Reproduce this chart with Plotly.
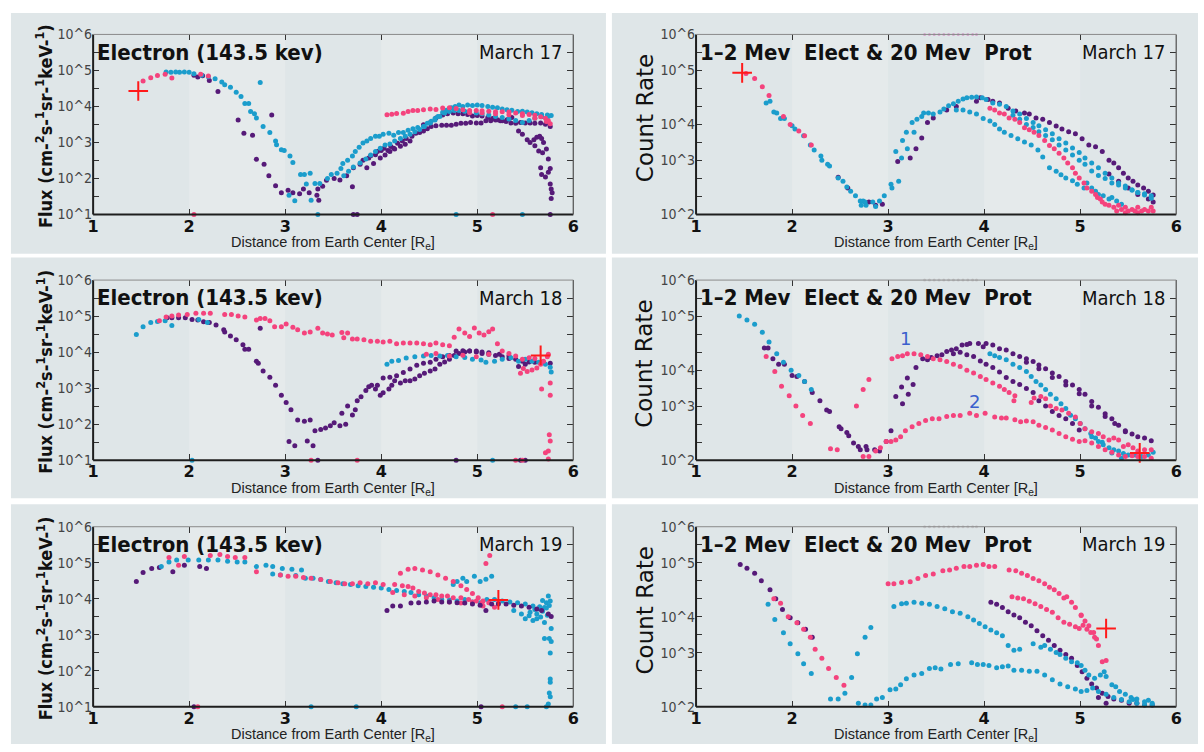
import math
import plotly.graph_objects as go

W, H = 1204, 752
OFF = 0

PINK = "#f4437d"
CYAN = "#1b9dcc"
PURPLE = "#561a78"
RED = "#ff1a1a"

# ---------------- axis ticks / labels ----------------
X_TICKS = [1, 2, 3, 4, 5, 6]
X_TICK_TEXT = ["1", "2", "3", "4", "5", "6"]
FLUX_TICK_EXP = [1, 1.5, 2, 2.5, 3, 3.5, 4, 4.5, 5, 5.5, 6]
FLUX_TICK_TEXT = ["10^1", "", "10^2", "", "10^3", "", "10^4", "", "10^5", "", "10^6"]
RATE_TICK_EXP = [2, 2.4, 2.8, 3.2, 3.6, 4.0, 4.4, 4.8, 5.2, 5.6, 6]
RATE_TICK_TEXT = ["10^2", "", "", "10^3", "", "10^4", "", "", "10^5", "", "10^6"]

TITLE_FLUX = "Electron (143.5 kev)"
TITLE_RATE = "1\u20132 Mev  Elect & 20 Mev  Prot"
DATES = ["March 17", "March 17", "March 18", "March 18", "March 19", "March 19"]
YTITLE_FLUX = "Flux (cm-<sup>2</sup>s-<sup>1</sup>sr-<sup>1</sup>keV-<sup>1</sup>)"
YTITLE_RATE = "Count Rate"
XTITLE = "Distance from Earth Center [R<sub>e</sub>]"

# faint saturated points along the top edge of the count-rate panels
TOP_DOTS_X = [3.38, 3.43, 3.48, 3.53, 3.58, 3.63, 3.68, 3.73, 3.78, 3.83, 3.88, 3.92]
TOP_DOTS_Y = [1e6, 1e6, 1e6, 1e6, 1e6, 1e6, 1e6, 1e6, 1e6, 1e6, 1e6, 1e6]

# ---------------- Panel A: March 17, electron flux ----------------
A_PINK1_X = [1.52, 1.60, 1.67, 1.75, 1.82, 2.12, 2.20, 2.05]
A_PINK1_Y = [5.1e4, 6.3e4, 7.2e4, 7.8e4, 6.2e4, 7.8e4, 7.0e4, 10]
A_PINK2_X = [4.06, 4.11, 4.16, 4.23, 4.28, 4.33, 4.38, 4.44, 4.51, 4.57, 4.64, 4.71, 4.78, 4.85, 4.92, 4.99, 5.05, 5.12, 5.19, 5.26,
             5.33, 5.40, 5.47, 5.54, 5.60, 5.66, 5.71, 5.74, 5.76, 4.92, 5.05, 5.19, 5.33, 5.47, 5.60, 5.72, 5.16]
A_PINK2_Y = [5.9e3, 6.1e3, 6.4e3, 6.5e3, 7.2e3, 7.7e3, 7.7e3, 8.1e3, 8.5e3, 8.3e3, 9.1e3, 9.2e3, 8.8e3, 8.1e3, 7.7e3, 7.7e3, 7.6e3, 7.4e3, 7.1e3, 7.1e3,
             7.0e3, 6.6e3, 6.3e3, 6.0e3, 5.7e3, 5.2e3, 4.7e3, 4.0e3, 3.3e3, 6.7e3, 6.6e3, 6.3e3, 5.9e3, 5.6e3, 4.7e3, 3.8e3, 10]
A_CYAN1_X = [1.76, 1.81, 1.86, 1.90, 1.95, 2.00, 2.05, 2.13, 2.20, 2.27, 2.34, 2.37, 2.43, 2.49, 2.54, 2.58, 2.62, 2.64, 2.68, 2.70,
             2.74, 2.77, 2.84, 2.90, 2.91, 2.96, 2.99, 3.05, 3.08, 3.16, 3.20, 3.26, 3.22, 3.04, 3.10, 3.27, 3.31, 3.36, 3.34, 4.78, 5.47]
A_CYAN1_Y = [9.1e4, 8.9e4, 9.1e4, 8.9e4, 9.1e4, 8.9e4, 8.1e4, 7.4e4, 6.7e4, 5.9e4, 4.8e4, 4.0e4, 3.4e4, 2.5e4, 1.9e4, 1.2e4, 1.2e4, 7.2e3, 6.3e3, 4.8e3,
             4.6e4, 2.8e3, 1.9e3, 1.1e3, 8.7e2, 6.3e2, 6.0e2, 4.2e2, 2.8e2, 1.3e2, 1.3e2, 1.4e2, 70, 34, 24, 25, 73, 73, 10, 10, 10]
A_CYAN2_X = [3.44, 3.48, 3.54, 3.58, 3.60, 3.65, 3.70, 3.73, 3.77, 3.81, 3.85, 3.89, 3.94, 3.98, 4.02, 4.08, 4.13, 4.18, 4.23, 4.28,
             4.33, 4.38, 4.44, 4.48, 4.52, 4.56, 4.59, 4.64, 4.68, 4.73, 4.77, 4.81, 4.85, 4.90, 4.95, 5.00, 5.05, 5.11, 5.16, 5.21,
             5.26, 5.31, 5.36, 5.42, 5.47, 5.52, 5.57, 5.62, 5.67, 5.73, 5.77]
A_CYAN2_Y = [1.0e2, 1.3e2, 1.4e2, 1.9e2, 2.6e2, 3.2e2, 4.2e2, 5.6e2, 7.4e2, 9.6e2, 1.1e3, 1.3e3, 1.5e3, 1.5e3, 1.7e3, 1.8e3, 1.6e3, 1.9e3, 1.9e3, 2.2e3,
             2.4e3, 2.6e3, 2.8e3, 3.4e3, 3.9e3, 4.6e3, 5.3e3, 6.9e3, 7.8e3, 9.2e3, 1.0e4, 1.1e4, 1.0e4, 1.1e4, 1.07e4, 1.1e4, 1.07e4, 1.0e4, 9.5e3, 9.2e3,
             8.5e3, 8.1e3, 7.8e3, 7.3e3, 7.4e3, 7.0e3, 6.7e3, 6.3e3, 6.0e3, 5.8e3, 5.6e3]
A_CYAN3_X = [3.61, 3.66, 3.71, 3.78, 3.84, 3.89, 3.94, 3.99, 4.04, 4.09, 4.14, 4.20, 4.25, 4.30, 4.35, 4.40, 4.45, 4.51, 4.56, 4.61,
             4.66, 4.71, 4.76, 4.81, 4.87, 4.92, 4.99, 5.05, 5.12, 5.19, 5.26, 5.33, 5.40, 5.47, 5.54, 5.60, 5.67, 5.74]
A_CYAN3_Y = [1.2e2, 1.6e2, 2.1e2, 2.7e2, 3.5e2, 4.5e2, 5.6e2, 6.9e2, 8.5e2, 9.1e2, 1.1e3, 1.3e3, 1.5e3, 1.7e3, 2.0e3, 2.3e3, 2.8e3, 3.5e3, 4.2e3, 5.3e3,
             6.6e3, 7.2e3, 7.7e3, 7.7e3, 7.4e3, 7.1e3, 6.6e3, 6.3e3, 5.8e3, 5.3e3, 4.9e3, 4.5e3, 4.1e3, 3.6e3, 4.1e3, 4.7e3, 5.2e3, 5.3e3]
A_PURPLE1_X = [2.05, 2.09, 2.14, 2.21, 2.30, 2.51, 2.57, 2.66, 2.86, 2.70, 2.78, 2.83, 2.90, 2.96, 3.03, 3.08, 3.15, 3.19, 3.25, 3.33,
               3.35, 3.34, 3.71, 3.75, 5.76]
A_PURPLE1_Y = [7.4e4, 6.6e4, 7.1e4, 5.3e4, 2.6e4, 4.2e3, 1.8e3, 1.6e3, 5.8e3, 3.4e2, 2.5e2, 1.2e2, 63, 40, 47, 40, 38, 51, 40, 34,
               25, 51, 10, 10, 10]
A_PURPLE2_X = [3.39, 3.43, 3.51, 3.57, 3.64, 3.70, 3.71, 3.78, 3.81, 3.87, 3.89, 3.94, 3.96, 4.00, 4.03, 4.07, 4.10, 4.13, 4.17, 4.22,
               4.26, 4.32, 4.36, 4.40, 4.44, 4.48, 4.52, 4.57, 4.63, 4.68, 4.73, 4.78, 4.83, 4.88, 4.93, 4.99, 5.04, 5.09, 5.14, 5.19,
               5.24, 5.30, 5.35, 5.40, 5.45, 5.50, 5.55, 5.60, 5.66, 5.71, 5.76]
A_PURPLE2_Y = [61, 89, 100, 91, 120, 59, 200, 250, 320, 370, 430, 460, 560, 600, 690, 600, 770, 690, 950, 1.1e3,
               1.3e3, 1.5e3, 1.8e3, 1.9e3, 2.1e3, 2.4e3, 2.8e3, 2.9e3, 3.0e3, 3.0e3, 3.0e3, 3.2e3, 3.4e3, 3.4e3, 3.6e3, 3.5e3, 3.5e3, 4.0e3, 4.0e3, 4.2e3,
               4.0e3, 3.8e3, 3.5e3, 3.4e3, 3.6e3, 3.5e3, 3.5e3, 3.4e3, 3.5e3, 3.2e3, 2.8e3]
A_PURPLE3_X = [4.44, 4.51, 4.57, 4.64, 4.69, 4.75, 4.80, 4.85, 4.90, 4.95, 5.00, 5.05, 5.11, 5.16, 5.21, 5.26, 5.31, 5.36,
               3.85, 3.92, 3.99, 4.04, 4.09, 4.14, 4.20, 4.25, 4.30]
A_PURPLE3_Y = [3.1e3, 3.6e3, 4.8e3, 5.8e3, 6.3e3, 6.6e3, 6.3e3, 6.3e3, 6.0e3, 5.4e3, 5.6e3, 5.4e3, 4.9e3, 4.6e3, 4.3e3, 4.0e3, 4.3e3, 4.9e3,
               200, 260, 370, 450, 560, 660, 780, 900, 1.1e3]
A_PURPLE4_X = [5.43, 5.47, 5.52, 5.55, 5.59, 5.62, 5.65, 5.67, 5.69, 5.60, 5.64, 5.68, 5.72, 5.74, 5.76, 5.66, 5.67, 5.71, 5.74, 5.76,
               5.77, 5.78, 5.77]
A_PURPLE4_Y = [2.1e3, 1.7e3, 1.2e3, 1.0e3, 1.2e3, 1.4e3, 1.5e3, 1.3e3, 1.0e3, 810, 580, 520, 660, 350, 190, 200, 130, 110, 150, 70,
               51, 40, 28]
A_PLUS_X = [1.47]
A_PLUS_Y = [2.7e4]

# ---------------- Panel B: March 17, count rate ----------------
B_PINK1_X = [1.52, 1.61, 1.69, 1.76, 1.91, 1.98, 2.07, 2.13, 2.20]
B_PINK1_Y = [1.35e5, 1.05e5, 6.9e4, 4.4e4, 1.5e4, 1.0e4, 7.2e3, 5.6e3, 3.5e3]
B_PINK2_X = [4.06, 4.11, 4.16, 4.21, 4.26, 4.32, 4.37, 4.42, 4.47, 4.52, 4.57, 4.63, 4.68, 4.73, 4.78, 4.83, 4.87, 4.92, 4.95, 4.99,
             5.04, 5.07, 5.12, 5.16, 5.18, 5.21, 5.23, 5.26, 5.30, 5.35, 5.40, 5.43, 5.47, 5.50, 5.54, 5.57, 5.60, 5.64, 5.67, 5.71,
             5.74, 5.76, 5.47, 5.60, 5.38]
B_PINK2_Y = [2.3e4, 2.1e4, 1.8e4, 1.7e4, 1.4e4, 1.3e4, 1.1e4, 8.5e3, 7.6e3, 6.7e3, 5.7e3, 4.4e3, 3.4e3, 2.9e3, 2.3e3, 1.8e3, 1.4e3, 1.1e3, 830, 650,
             500, 390, 330, 280, 240, 220, 190, 170, 160, 145, 160, 130, 145, 120, 130, 120, 145, 120, 130, 120,
             145, 120, 110, 110, 120]
B_CYAN1_X = [1.73, 1.77, 1.81, 1.84, 1.88, 1.92, 2.00, 2.03, 2.12, 2.19, 2.23, 2.30, 2.31, 2.37, 2.39, 2.48, 2.53, 2.57, 2.61, 2.66,
             2.71, 2.74, 2.76, 2.72, 2.77, 2.84, 2.87, 2.91, 2.96, 3.03, 3.04, 3.08, 3.11, 3.14, 3.15, 3.19, 3.20, 3.25, 3.27, 3.30,
             3.35, 3.37, 3.42, 3.47, 3.54, 3.58, 3.63, 3.68, 3.73, 3.78, 3.82, 3.87, 3.92, 3.98, 4.02]
B_CYAN1_Y = [3.0e4, 3.3e4, 1.9e4, 1.8e4, 1.35e4, 1.35e4, 9.4e3, 7.9e3, 5.6e3, 3.5e3, 2.7e3, 2.0e3, 1.6e3, 1.3e3, 1.2e3, 650, 550, 410, 330, 260,
             200, 200, 190, 160, 160, 190, 150, 200, 260, 470, 390, 2.5e3, 550, 1.8e3, 4.4e3, 6.7e3, 2.9e3, 1.1e4, 6.7e3, 1.3e4,
             1.5e4, 1.8e4, 1.8e4, 1.7e4, 1.9e4, 2.2e4, 2.6e4, 2.9e4, 3.3e4, 3.7e4, 3.9e4, 4.0e4, 4.1e4, 3.9e4, 3.6e4]
B_CYAN2_X = [3.71, 3.78, 3.85, 3.92, 3.99, 4.06, 4.11, 4.16, 4.21, 4.28, 4.35, 4.42, 4.49, 4.56, 4.61, 4.68, 4.75, 4.80, 4.85, 4.92,
             4.97, 5.04, 5.07, 5.12, 5.16, 5.19, 5.24, 5.30, 5.33, 5.38, 5.43]
B_CYAN2_Y = [2.1e4, 2.1e4, 1.9e4, 1.7e4, 1.35e4, 1.2e4, 1.0e4, 7.9e3, 6.7e3, 5.7e3, 4.8e3, 4.1e3, 3.5e3, 2.7e3, 1.9e3, 1.1e3, 910, 760, 650, 560,
             470, 390, 500, 390, 330, 280, 260, 220, 240, 200, 170]
B_CYAN3_X = [4.09, 4.16, 4.23, 4.30, 4.37, 4.44, 4.51, 4.57, 4.64, 4.71, 4.78, 4.85, 4.92, 4.99, 5.05, 5.12, 5.19, 5.26, 5.33, 5.40,
             5.47, 5.54, 5.60, 5.67, 5.74]
B_CYAN3_Y = [3.0e4, 2.8e4, 2.5e4, 2.0e4, 1.7e4, 1.35e4, 1.1e4, 9.4e3, 7.6e3, 6.2e3, 4.8e3, 3.9e3, 3.0e3, 2.4e3, 1.8e3, 1.4e3, 1.1e3, 830, 650, 500,
             430, 350, 310, 270, 260]
B_CYAN4_X = [4.30, 4.37, 4.44, 4.51, 4.57, 4.64, 4.71, 4.78, 4.85, 4.92, 4.99, 5.05, 5.12, 5.19, 5.26, 5.33, 5.40, 5.47, 5.54, 5.60,
             5.67, 5.74]
B_CYAN4_Y = [1.6e4, 1.3e4, 1.0e4, 8.6e3, 6.9e3, 5.7e3, 4.6e3, 3.5e3, 2.7e3, 2.1e3, 1.6e3, 1.3e3, 930, 740, 630, 500, 450, 390, 350, 310,
             290, 230]
B_PURPLE1_X = [2.48, 2.58, 2.80, 2.87, 2.94, 3.10, 3.23, 3.29, 3.35, 3.41, 3.47, 3.61, 3.71, 3.92, 3.96, 4.04]
B_PURPLE1_Y = [670, 390, 190, 160, 170, 1.5e3, 1.8e3, 2.9e3, 5.0e3, 1.1e4, 1.4e4, 2.1e4, 2.5e4, 3.3e4, 3.9e4, 3.6e4]
B_PURPLE2_X = [4.09, 4.16, 4.25, 4.33, 4.42, 4.47, 4.54, 4.61, 4.68, 4.75, 4.81, 4.88, 4.95, 5.02, 5.09, 5.16, 5.23, 5.30, 5.35, 5.40,
               5.45, 5.50, 5.55, 5.60, 5.66, 5.71, 5.76, 5.30, 5.40, 5.50, 5.60, 5.71, 5.76]
B_PURPLE2_Y = [3.3e4, 3.0e4, 2.3e4, 2.0e4, 1.8e4, 1.7e4, 1.4e4, 1.3e4, 1.1e4, 9.3e3, 7.9e3, 6.9e3, 6.2e3, 4.8e3, 3.5e3, 3.2e3, 2.5e3, 1.6e3, 1.4e3, 1.1e3,
               830, 650, 550, 450, 390, 330, 270, 790, 550, 390, 280, 220, 190]
B_PLUS_X = [1.48]
B_PLUS_Y = [1.4e5]

# ---------------- Panel C: March 18, electron flux ----------------
C_PINK1_X = [1.69, 1.76, 1.82, 1.89, 1.98, 2.07, 2.15, 2.22, 2.37, 2.44, 2.51, 2.58, 2.70, 2.74, 2.79, 2.84, 2.89, 2.96, 3.01, 3.08,
             3.13, 3.20, 3.26, 3.34, 3.39, 3.44, 3.49, 3.59, 3.65, 3.61, 3.70, 3.75, 3.82, 3.89, 3.96, 4.02, 4.09, 4.16, 4.23, 4.30,
             4.37, 4.44, 4.51, 4.57, 4.64, 4.71, 4.76, 4.81, 4.87, 4.92, 4.97, 5.02, 5.07, 5.12, 5.16]
C_PINK1_Y = [7.4e4, 9.5e4, 1.0e5, 1.07e5, 1.1e5, 1.2e5, 1.2e5, 1.2e5, 1.1e5, 1.1e5, 1.0e5, 9.5e4, 7.8e4, 8.6e4, 8.6e4, 7.4e4, 5.1e4, 5.1e4, 6.0e4, 4.9e4,
             4.2e4, 3.4e4, 3.6e4, 4.6e4, 3.4e4, 3.2e4, 3.0e4, 3.5e4, 3.4e4, 2.5e4, 2.3e4, 2.3e4, 2.2e4, 2.0e4, 2.0e4, 1.9e4, 2.0e4, 1.7e4, 1.8e4, 1.8e4,
             1.8e4, 1.7e4, 1.6e4, 1.8e4, 1.6e4, 1.5e4, 2.6e4, 4.4e4, 3.4e4, 2.7e4, 4.7e4, 3.4e4, 3.0e4, 3.7e4, 4.4e4]
C_PINK2_X = [4.47, 4.57, 4.71, 4.85, 4.99, 5.12, 5.21, 5.26, 5.33, 5.40, 5.45, 5.48, 5.52, 5.57, 5.62, 5.66, 5.69, 5.73, 5.74, 5.47,
             5.54, 5.60, 5.67, 5.76, 5.76, 5.75, 5.76, 5.74, 5.71, 5.74, 3.27, 3.75, 5.40, 5.47]
C_PINK2_Y = [8.7e3, 9.2e3, 7.8e3, 8.2e3, 7.4e3, 8.7e3, 1.7e4, 1.07e4, 9.2e3, 7.8e3, 2.6e3, 3.5e3, 2.9e3, 3.2e3, 3.6e3, 4.6e3, 5.6e3, 7.4e3, 8.7e3, 6.3e3,
             7.0e3, 6.6e3, 950, 1.4e3, 630, 51, 34, 18, 16, 10.7, 10, 10, 10, 10]
C_CYAN1_X = [1.45, 1.52, 1.60, 1.67, 1.75, 1.82, 2.10, 2.19, 2.03, 5.16]
C_CYAN1_Y = [3.1e4, 5.1e4, 6.6e4, 7.1e4, 7.4e4, 5.5e4, 8.1e4, 6.6e4, 10, 10]
C_CYAN2_X = [4.06, 4.11, 4.18, 4.26, 4.35, 4.44, 4.52, 4.61, 4.69, 4.78, 4.87, 4.95, 5.04, 5.09, 5.18, 5.26, 5.35, 5.43, 5.50, 5.57,
             5.64, 5.71, 5.76, 5.77]
C_CYAN2_Y = [4.6e3, 5.6e3, 5.9e3, 6.9e3, 7.4e3, 7.8e3, 8.1e3, 7.8e3, 8.1e3, 7.4e3, 7.1e3, 6.3e3, 6.0e3, 5.2e3, 5.6e3, 6.3e3, 7.0e3, 5.6e3, 6.3e3, 5.6e3,
             5.2e3, 4.6e3, 3.8e3, 2.8e3]
C_PURPLE1_X = [1.77, 1.82, 1.89, 1.96, 2.03, 2.09, 2.15, 2.21, 2.28, 2.36, 2.37, 2.43, 2.49, 2.56, 2.58, 2.62, 2.70, 2.72, 2.74, 2.77,
               2.84, 2.90, 2.96, 3.01, 3.06, 3.13, 3.20, 3.26, 3.31, 3.37, 3.42, 3.04, 3.10, 3.23, 3.29, 3.34, 4.78, 5.45, 5.50]
C_PURPLE1_Y = [9.0e4, 9.0e4, 9.0e4, 9.0e4, 8.1e4, 7.8e4, 7.0e4, 6.6e4, 5.7e4, 4.2e4, 3.6e4, 2.8e4, 2.2e4, 1.6e4, 1.2e4, 1.2e4, 5.6e3, 4.9e3, 4.6e4, 3.0e3,
               2.0e3, 1.2e3, 630, 400, 250, 130, 120, 130, 66, 71, 78, 33, 25, 34, 25, 10, 10, 10, 10]
C_PURPLE2_X = [3.47, 3.51, 3.57, 3.63, 3.59, 3.65, 3.70, 3.73, 3.75, 3.79, 3.84, 3.87, 3.90, 3.94, 3.96, 3.99, 4.02, 4.08, 4.11, 4.14,
               4.20, 4.25, 4.30, 4.35, 4.40, 4.45, 4.51, 4.56, 4.61, 4.66, 4.71, 4.76, 4.81, 4.87, 4.92, 4.99, 5.05, 5.12, 5.19, 5.26,
               5.33, 5.40, 5.47, 5.54, 5.60, 5.67, 5.76]
C_PURPLE2_Y = [91, 110, 91, 100, 200, 320, 180, 250, 450, 580, 860, 1.1e3, 1.2e3, 950, 1.2e3, 630, 740, 950, 1.2e3, 1.6e3,
               1.4e3, 1.6e3, 1.6e3, 1.8e3, 2.2e3, 2.6e3, 3.0e3, 3.4e3, 4.6e3, 5.3e3, 6.3e3, 8.1e3, 9.2e3, 1.0e4, 1.07e4, 1.0e4, 9.2e3, 8.7e3, 8.1e3, 7.4e3,
               6.6e3, 6.3e3, 5.6e3, 5.3e3, 5.2e3, 5.2e3, 4.9e3]
C_PURPLE3_X = [4.02, 4.09, 4.16, 4.23, 4.30, 4.37, 4.44, 4.51, 4.57, 4.64, 4.71, 4.78, 4.85, 4.92, 4.99, 5.05, 5.12, 5.23, 5.33, 5.43, 5.50]
C_PURPLE3_Y = [1.9e3, 2.0e3, 2.2e3, 2.7e3, 3.4e3, 4.3e3, 4.9e3, 5.2e3, 6.3e3, 7.4e3, 8.1e3, 1.07e4, 1.1e4, 1.07e4, 1.07e4, 1.0e4, 9.6e3, 8.7e3, 7.8e3, 4.0e3, 4.6e3]
C_PLUS_X = [5.66]
C_PLUS_Y = [8.1e3]

# ---------------- Panel D: March 18, count rate ----------------
D_CYAN1_X = [1.45, 1.53, 1.61, 1.69, 1.76, 1.84, 1.91, 1.99, 2.07, 2.13, 2.20]
D_CYAN1_Y = [1.6e5, 1.3e5, 1.05e5, 6.9e4, 4.2e4, 2.3e4, 1.5e4, 1.0e4, 7.6e3, 5.6e3, 3.7e3]
D_CYAN2_X = [4.06, 4.11, 4.16, 4.23, 4.30, 4.37, 4.44, 4.49, 4.54, 4.59, 4.64, 4.69, 4.75, 4.80, 4.85, 4.90, 4.95, 5.00, 5.05, 5.11,
             5.16, 5.19, 5.24, 5.30, 5.35, 5.40, 5.45, 5.50, 5.57, 5.64, 5.71, 5.76, 5.12, 5.23, 5.33, 5.43]
D_CYAN2_Y = [2.3e4, 2.1e4, 1.9e4, 1.7e4, 1.35e4, 1.15e4, 9.3e3, 7.2e3, 5.6e3, 4.7e3, 3.7e3, 2.9e3, 2.3e3, 1.8e3, 1.4e3, 1.0e3, 830, 650, 500, 390,
             310, 260, 220, 190, 170, 160, 140, 130, 130, 120, 130, 150, 330, 250, 145, 110]
D_PINK1_X = [1.73, 1.82, 1.89, 1.97, 2.04, 2.11, 2.19, 2.40, 2.47, 2.67, 2.74, 2.80, 2.74, 2.80, 2.87, 2.92, 2.98]
D_PINK1_Y = [2.0e4, 9.3e3, 4.4e3, 2.7e3, 1.6e3, 980, 650, 180, 170, 1.6e3, 3.7e3, 6.2e3, 120, 120, 160, 190, 260]
D_PINK2_X = [3.04, 3.10, 3.15, 3.20, 3.27, 3.34, 3.41, 3.47, 3.54, 3.61, 3.68, 3.75, 3.82, 3.89, 3.96, 4.02, 4.09, 4.16, 4.21, 4.26,
             4.31, 4.32, 4.49, 4.52, 4.59, 4.64, 4.69, 4.75, 4.81, 4.88, 4.95, 5.00, 5.05, 5.12, 5.19, 5.24, 5.30, 5.35, 5.40, 5.45,
             5.50, 5.55, 5.60, 5.67, 5.74]
D_PINK2_Y = [1.8e4, 2.0e4, 2.1e4, 2.3e4, 2.3e4, 2.2e4, 2.0e4, 1.8e4, 1.7e4, 1.55e4, 1.35e4, 1.2e4, 1.0e4, 8.6e3, 7.2e3, 6.2e3, 5.2e3, 4.4e3, 3.7e3, 3.2e3,
             2.1e3, 2.7e3, 1.9e3, 2.4e3, 2.6e3, 2.3e3, 1.6e3, 1.4e3, 1.3e3, 1.1e3, 910, 650, 500, 430, 390, 330, 280, 310, 280, 200,
             220, 190, 160, 170, 170]
D_PINK3_X = [3.03, 3.08, 3.13, 3.18, 3.25, 3.32, 3.39, 3.46, 3.53, 3.61, 3.68, 3.75, 3.85, 3.92, 4.01, 4.11, 4.18, 4.23, 4.32, 4.38,
             4.44, 4.51, 4.57, 4.64, 4.71, 4.78, 4.85, 4.92, 4.99, 5.05, 5.12, 5.19, 5.26, 5.33, 5.40, 5.47, 5.54, 5.60, 5.67, 5.74]
D_PINK3_Y = [260, 280, 330, 450, 550, 650, 760, 830, 830, 930, 980, 980, 1.1e3, 980, 1.1e3, 910, 870, 870, 790, 710,
             740, 710, 600, 530, 470, 390, 330, 290, 260, 270, 240, 200, 170, 150, 130, 120, 126, 120, 120, 110]
D_PURPLE1_X = [1.71, 1.75, 1.80, 1.86, 1.92, 2.00, 2.05, 2.13, 2.21, 2.29, 2.36, 2.39, 2.49, 2.51, 2.57, 2.59, 2.64, 2.69, 2.71, 2.77,
               2.78, 2.86, 2.91, 2.98, 3.03, 3.08, 3.14, 3.15, 3.20, 3.21, 3.26, 3.29, 3.36, 3.41, 3.45, 3.51, 3.56, 3.61, 3.66, 3.71,
               3.77, 3.82, 3.85, 3.94, 3.99]
D_PURPLE1_Y = [3.1e4, 3.1e4, 1.8e4, 1.35e4, 1.35e4, 7.6e3, 7.2e3, 5.6e3, 3.2e3, 2.1e3, 1.3e3, 1.2e3, 550, 500, 410, 350, 240, 200, 170, 200,
               170, 170, 160, 260, 450, 2.6e3, 4.2e3, 1.8e3, 6.7e3, 2.9e3, 4.8e3, 1.15e4, 1.8e4, 1.7e4, 1.9e4, 2.1e4, 2.2e4, 2.6e4, 2.8e4, 3.0e4,
               3.6e4, 3.7e4, 3.9e4, 3.9e4, 3.3e4]
D_PURPLE2_X = [3.68, 3.75, 3.82, 3.89, 3.96, 4.02, 4.09, 4.16, 4.23, 4.30, 4.37, 4.44, 4.51, 4.57, 4.64, 4.71, 4.78, 4.85, 4.92, 4.99]
D_PURPLE2_Y = [2.3e4, 2.5e4, 2.2e4, 2.0e4, 1.6e4, 1.35e4, 1.15e4, 9.1e3, 6.9e3, 5.6e3, 4.8e3, 3.9e3, 3.2e3, 2.1e3, 1.6e3, 1.2e3, 980, 830, 650, 470]
D_PURPLE3_X = [4.02, 4.09, 4.16, 4.23, 4.30, 4.37, 4.44, 4.51, 4.57, 4.64, 4.71, 4.78, 4.85, 4.92, 4.99, 5.05, 5.12, 5.19, 5.26, 5.33,
               5.40, 5.47, 5.54, 5.60, 5.67, 5.74, 4.44, 4.57, 4.71, 4.85, 4.99, 5.12, 5.26, 5.36, 5.47]
D_PURPLE3_Y = [3.9e4, 3.6e4, 3.0e4, 2.8e4, 2.3e4, 2.0e4, 1.8e4, 1.55e4, 1.3e4, 1.07e4, 8.6e3, 7.2e3, 5.6e3, 4.7e3, 3.7e3, 2.9e3, 2.0e3, 1.5e3, 1.07e3, 830,
               600, 450, 380, 330, 310, 270, 1.5e4, 1.07e4, 6.9e3, 4.7e3, 3.0e3, 1.6e3, 930, 650, 430]
D_PLUS_X = [5.62]
D_PLUS_Y = [145]
D_NOTE_TEXT = ["1", "2"]
D_NOTE_X = [3.18, 3.90]
D_NOTE_Y = [5.0e4, 2.0e3]

# ---------------- Panel E: March 19, electron flux ----------------
E_PINK1_X = [1.79, 1.89, 1.95, 2.22, 2.32, 2.40, 2.48, 2.58, 2.70, 2.95, 3.03, 3.11, 3.19, 3.27, 3.37, 3.47, 3.55, 3.62, 3.70, 3.78,
             3.86, 3.94, 4.02, 4.14, 4.22, 4.28, 4.33, 4.39, 4.45, 4.51, 4.57, 4.63, 4.69, 4.75, 4.83, 4.91, 4.99, 5.06, 5.12]
E_PINK1_Y = [1.4e5, 8.5e4, 1.5e5, 1.6e5, 1.7e5, 1.5e5, 1.4e5, 1.4e5, 5.6e4, 4.6e4, 4.2e4, 4.2e4, 3.9e4, 3.7e4, 3.4e4, 3.0e4, 2.8e4, 2.6e4, 2.6e4, 2.8e4,
             2.6e4, 2.8e4, 2.5e4, 2.5e4, 2.3e4, 2.2e4, 2.0e4, 1.6e4, 1.45e4, 1.3e4, 1.3e4, 1.2e4, 1.2e4, 1.07e4, 1.07e4, 9.6e3, 8.7e3, 8.7e3, 7.8e3]
E_PINK2_X = [4.20, 4.28, 4.35, 4.43, 4.51, 4.59, 4.67, 4.75, 4.83, 4.89, 4.95, 5.01, 5.09, 5.13, 5.05,
             4.12, 4.24, 4.35, 4.47, 4.59, 4.71, 4.83, 4.95, 5.06, 5.18, 5.22, 2.09, 5.26]
E_PINK2_Y = [5.1e4, 6.6e4, 6.9e4, 6.3e4, 5.6e4, 4.6e4, 3.7e4, 3.0e4, 2.3e4, 1.8e4, 1.4e4, 1.07e4, 9.5e4, 1.6e5, 7.8e3,
             1.5e4, 1.3e4, 1.2e4, 1.07e4, 9.6e3, 8.1e3, 7.6e3, 8.1e3, 6.3e3, 5.8e3, 7.8e3, 10, 10]
E_CYAN1_X = [1.71, 1.79, 1.87, 1.99, 2.10, 2.20, 2.30, 2.40, 2.50, 2.58, 2.70, 2.80, 2.87, 2.97, 3.07, 3.17, 2.87, 2.95, 3.11, 3.21,
             3.29, 3.37, 3.45, 3.53, 3.60, 3.68, 3.76, 3.84, 3.92, 4.00, 4.08, 4.16, 4.24, 4.31, 4.39, 4.47, 4.55, 4.63, 4.71, 4.79,
             4.87, 4.95, 5.03, 5.10, 5.18, 5.26, 5.34, 5.42, 5.50, 5.58, 5.64, 5.70]
E_CYAN1_Y = [7.8e4, 1.05e5, 1.2e5, 1.2e5, 1.2e5, 1.2e5, 1.2e5, 1.1e5, 1.05e5, 1.05e5, 7.8e4, 8.5e4, 7.8e4, 6.9e4, 6.6e4, 6.3e4, 4.9e4, 4.6e4, 4.4e4, 3.7e4,
             3.7e4, 3.4e4, 3.0e4, 2.8e4, 2.6e4, 2.5e4, 2.3e4, 2.2e4, 2.1e4, 2.0e4, 1.8e4, 1.7e4, 1.6e4, 1.5e4, 1.3e4, 1.2e4, 1.07e4, 9.6e3, 9.3e3, 8.7e3,
             9.6e3, 8.1e3, 7.8e3, 9.6e3, 9.6e3, 8.7e3, 8.1e3, 7.8e3, 7.1e3, 6.3e3, 5.2e3, 5.7e3]
E_CYAN2_X = [4.75, 4.79, 4.85, 4.89, 4.97, 5.03, 5.09, 5.15,
             5.38, 5.46, 5.50, 5.54, 5.58, 5.62, 5.66, 5.70, 5.72, 5.74, 5.76, 5.77, 5.75, 5.70, 5.77, 5.76, 5.76, 5.76, 5.75, 5.76, 5.74,
             5.60, 5.65, 5.68, 5.72, 5.55, 5.62, 5.73, 5.68, 5.75, 3.27, 3.74, 5.40, 5.52, 5.72]
E_CYAN2_Y = [2.5e4, 3.0e4, 3.7e4, 3.0e4, 4.2e4, 3.0e4, 3.5e4, 4.2e4,
             4.7e3, 3.8e3, 2.8e3, 3.4e3, 2.5e3, 3.8e3, 3.1e3, 2.2e3, 7.8e3, 1.2e4, 8.7e3, 1.5e3, 790, 790, 650, 310, 59, 48, 24, 19, 12,
             5.0e3, 6.0e3, 4.5e3, 5.5e3, 4.2e3, 2.8e3, 3.5e3, 9.0e3, 6.5e3, 10, 10, 10, 10, 10]
E_PURPLE1_X = [1.45, 1.52, 1.61, 1.69, 1.83, 1.95, 2.11, 2.18, 2.05, 5.04]
E_PURPLE1_Y = [3.0e4, 5.4e4, 6.9e4, 7.4e4, 5.6e4, 8.5e4, 7.8e4, 6.9e4, 10, 10]
E_PURPLE2_X = [4.06, 4.12, 4.20, 4.31, 4.39, 4.47, 4.55, 4.63, 4.71, 4.79, 4.87, 4.95, 5.03, 5.09, 5.15, 5.22, 5.30, 5.38, 5.46, 5.54,
               5.62, 5.67, 5.74, 5.77]
E_PURPLE2_Y = [4.7e3, 6.3e3, 6.3e3, 7.6e3, 7.8e3, 8.1e3, 8.7e3, 8.1e3, 8.1e3, 7.8e3, 7.6e3, 7.1e3, 6.6e3, 4.7e3, 7.1e3, 7.1e3, 7.1e3, 6.6e3, 6.3e3, 5.8e3,
               5.2e3, 4.7e3, 3.8e3, 3.2e3]
E_PLUS_X = [5.22]
E_PLUS_Y = [9.3e3]

# ---------------- Panel F: March 19, count rate ----------------
F_PURPLE1_X = [1.46, 1.53, 1.61, 1.68, 1.77, 1.83, 1.90, 1.98, 2.06, 2.14, 2.21]
F_PURPLE1_Y = [1.45e5, 1.2e5, 9.3e4, 6.3e4, 4.0e4, 2.5e4, 1.45e4, 9.5e3, 7.4e3, 5.3e3, 3.5e3]
F_PURPLE2_X = [4.07, 4.13, 4.19, 4.25, 4.31, 4.37, 4.43, 4.49, 4.55, 4.61, 4.67, 4.73, 4.79, 4.85, 4.91, 4.97, 5.02, 5.07, 5.12, 5.17,
               5.23, 5.29, 5.35, 5.43, 5.51, 5.59, 5.67, 5.75, 5.19, 5.27]
F_PURPLE2_Y = [2.1e4, 1.9e4, 1.6e4, 1.3e4, 1.1e4, 9.5e3, 7.6e3, 6.3e3, 4.9e3, 3.8e3, 3.0e3, 2.3e3, 1.8e3, 1.45e3, 1.2e3, 830, 600, 430, 320, 260,
               200, 170, 150, 140, 120, 120, 110, 110, 160, 120]
F_PINK1_X = [1.81, 1.88, 1.96, 2.05, 2.12, 2.19, 2.24, 2.31, 2.38, 2.46, 2.54]
F_PINK1_Y = [2.5e4, 2.0e4, 1.0e4, 7.4e3, 5.3e3, 3.5e3, 1.9e3, 1.2e3, 710, 450, 300]
F_PINK2_X = [3.00, 3.06, 3.14, 3.23, 3.31, 3.39, 3.47, 3.57, 3.64, 3.71, 3.79, 3.85, 3.92, 3.99, 4.05, 4.11, 4.26, 4.33, 4.39, 4.45,
             4.51, 4.57, 4.63, 4.68, 4.73, 4.78, 4.83, 4.86, 4.91, 4.95, 5.01, 5.05, 5.09, 5.14, 5.17, 5.23, 5.27]
F_PINK2_Y = [5.4e4, 5.4e4, 5.8e4, 6.0e4, 7.1e4, 8.3e4, 8.9e4, 1.05e5, 1.1e5, 1.2e5, 1.3e5, 1.3e5, 1.4e5, 1.45e5, 1.3e5, 1.3e5, 1.1e5, 1.05e5, 9.3e4, 8.3e4,
             7.1e4, 6.3e4, 5.4e4, 4.5e4, 4.0e4, 3.3e4, 2.6e4, 2.8e4, 2.1e4, 1.6e4, 1.07e4, 8.1e3, 6.3e3, 4.5e3, 3.2e3, 1.0e3, 1.07e3]
F_PINK3_X = [4.29, 4.35, 4.41, 4.47, 4.53, 4.59, 4.65, 4.71, 4.77, 4.83, 4.89, 4.95, 4.99, 5.03, 5.07, 5.11, 5.15, 5.19, 5.01]
F_PINK3_Y = [2.8e4, 2.6e4, 2.5e4, 2.2e4, 1.95e4, 1.7e4, 1.45e4, 1.26e4, 9.5e3, 7.6e3, 6.8e3, 6.0e3, 5.5e3, 6.5e3, 5.3e3, 4.5e3, 3.5e3, 2.3e3, 1.1e4]
F_CYAN1_X = [1.75, 1.82, 1.91, 1.98, 2.06, 2.12, 2.20, 2.40, 2.48, 2.55, 2.62, 2.68, 2.76, 2.82, 2.69, 2.76, 2.82, 2.88, 2.94]
F_CYAN1_Y = [1.9e4, 8.7e3, 4.4e3, 2.5e3, 1.5e3, 910, 550, 150, 150, 200, 450, 1.5e3, 3.5e3, 5.8e3, 120, 110, 110, 150, 160]
F_CYAN2_X = [3.06, 3.14, 3.19, 3.27, 3.35, 3.43, 3.51, 3.59, 3.67, 3.75, 3.83, 3.89, 3.95, 4.01, 4.07, 4.13, 4.19, 4.25, 4.31, 4.37,
             4.51, 4.59, 4.63, 4.69, 4.75, 4.79, 4.85, 4.91, 4.97, 5.01, 5.05, 5.09, 5.15, 5.21, 5.25, 5.27, 5.33, 5.37, 5.41, 5.47,
             5.53, 5.59, 5.67, 5.75]
F_CYAN2_Y = [1.7e4, 1.95e4, 2.0e4, 2.1e4, 2.0e4, 1.9e4, 1.7e4, 1.5e4, 1.3e4, 1.2e4, 1.0e4, 8.5e3, 7.1e3, 6.0e3, 5.1e3, 4.4e3, 3.8e3, 2.3e3, 1.8e3, 1.9e3,
             2.5e3, 2.1e3, 2.3e3, 1.9e3, 1.6e3, 1.45e3, 1.2e3, 1.0e3, 950, 830, 650, 510, 430, 510, 600, 470, 310, 280, 220, 190,
             160, 150, 130, 120]
F_CYAN3_X = [3.02, 3.08, 3.13, 3.19, 3.27, 3.35, 3.43, 3.49, 3.55, 3.65, 3.73, 3.87, 3.93, 3.99, 4.05, 4.13, 4.19, 4.25, 4.31, 4.39,
             4.47, 4.55, 4.63, 4.71, 4.79, 4.87, 4.95, 5.01, 5.07, 5.13, 5.19, 5.27, 5.35, 5.43, 5.51, 5.59, 5.67, 5.75, 5.55, 5.71]
F_CYAN3_Y = [240, 250, 310, 420, 510, 550, 710, 740, 690, 870, 910, 950, 870, 870, 830, 740, 780, 810, 650, 650,
             620, 620, 510, 400, 320, 280, 250, 220, 230, 260, 220, 190, 160, 145, 130, 120, 110, 110, 145, 140]
F_PLUS_X = [5.27]
F_PLUS_Y = [5.5e3]

# ---------------- assemble ----------------
PANELS = [
    dict(kind="flux", tracks=[(A_PURPLE1_X, A_PURPLE1_Y, PURPLE), (A_PURPLE2_X, A_PURPLE2_Y, PURPLE), (A_PURPLE3_X, A_PURPLE3_Y, PURPLE),
                              (A_PURPLE4_X, A_PURPLE4_Y, PURPLE), (A_CYAN1_X, A_CYAN1_Y, CYAN), (A_CYAN2_X, A_CYAN2_Y, CYAN),
                              (A_CYAN3_X, A_CYAN3_Y, CYAN), (A_PINK1_X, A_PINK1_Y, PINK), (A_PINK2_X, A_PINK2_Y, PINK)],
         plus=(A_PLUS_X, A_PLUS_Y), top=None),
    dict(kind="rate", tracks=[(B_PURPLE1_X, B_PURPLE1_Y, PURPLE), (B_PURPLE2_X, B_PURPLE2_Y, PURPLE), (B_CYAN1_X, B_CYAN1_Y, CYAN),
                              (B_CYAN2_X, B_CYAN2_Y, CYAN), (B_CYAN3_X, B_CYAN3_Y, CYAN), (B_CYAN4_X, B_CYAN4_Y, CYAN),
                              (B_PINK1_X, B_PINK1_Y, PINK), (B_PINK2_X, B_PINK2_Y, PINK)],
         plus=(B_PLUS_X, B_PLUS_Y), top="#d7a6cf"),
    dict(kind="flux", tracks=[(C_PURPLE1_X, C_PURPLE1_Y, PURPLE), (C_PURPLE2_X, C_PURPLE2_Y, PURPLE), (C_PURPLE3_X, C_PURPLE3_Y, PURPLE),
                              (C_CYAN1_X, C_CYAN1_Y, CYAN), (C_CYAN2_X, C_CYAN2_Y, CYAN),
                              (C_PINK1_X, C_PINK1_Y, PINK), (C_PINK2_X, C_PINK2_Y, PINK)],
         plus=(C_PLUS_X, C_PLUS_Y), top=None),
    dict(kind="rate", tracks=[(D_PURPLE1_X, D_PURPLE1_Y, PURPLE), (D_PURPLE2_X, D_PURPLE2_Y, PURPLE), (D_PURPLE3_X, D_PURPLE3_Y, PURPLE),
                              (D_CYAN1_X, D_CYAN1_Y, CYAN), (D_CYAN2_X, D_CYAN2_Y, CYAN),
                              (D_PINK1_X, D_PINK1_Y, PINK), (D_PINK2_X, D_PINK2_Y, PINK), (D_PINK3_X, D_PINK3_Y, PINK)],
         plus=(D_PLUS_X, D_PLUS_Y), top="#c9c9cc"),
    dict(kind="flux", tracks=[(E_PURPLE1_X, E_PURPLE1_Y, PURPLE), (E_CYAN1_X, E_CYAN1_Y, CYAN), (E_CYAN2_X, E_CYAN2_Y, CYAN),
                              (E_PINK1_X, E_PINK1_Y, PINK), (E_PINK2_X, E_PINK2_Y, PINK), (E_PURPLE2_X, E_PURPLE2_Y, PURPLE)],
         plus=(E_PLUS_X, E_PLUS_Y), top=None),
    dict(kind="rate", tracks=[(F_PURPLE1_X, F_PURPLE1_Y, PURPLE), (F_PURPLE2_X, F_PURPLE2_Y, PURPLE), (F_CYAN1_X, F_CYAN1_Y, CYAN),
                              (F_CYAN2_X, F_CYAN2_Y, CYAN), (F_CYAN3_X, F_CYAN3_Y, CYAN),
                              (F_PINK1_X, F_PINK1_Y, PINK), (F_PINK2_X, F_PINK2_Y, PINK), (F_PINK3_X, F_PINK3_Y, PINK)],
         plus=(F_PLUS_X, F_PLUS_Y), top="#c9c9cc"),
]

# pixel layout, in page pixels
COL_PX = [(88, 573), (697, 1182)]
ROW_PX = [(27, 211), (278, 462), (530, 714)]
PANEL_COL_PX = [(5, 606), (612, 1204)]
PANEL_ROW_PX = [(5, 251), (255, 501), (507, 752)]
PANEL_BG = "#dfe6e8"
PLOT_BG = "#eff0f0"
BAND_BG = "#e5eaeb"

COND = "DejaVu Sans Condensed, Liberation Sans Narrow, DejaVu Sans, sans-serif"


def px(x):
    return min(max((x - OFF) / W, 0), 1)


def py(y):
    return min(max(1 - (y - OFF) / H, 0), 1)


fig = go.Figure()
shapes = []
annotations = []
layout = {}

for r in range(3):
    for c in range(2):
        cx0, cx1 = PANEL_COL_PX[c]
        ry0, ry1 = PANEL_ROW_PX[r]
        shapes.append(dict(type="rect", xref="paper", yref="paper", x0=px(cx0), x1=px(cx1),
                           y0=py(ry1), y1=py(ry0), fillcolor=PANEL_BG, line=dict(width=0), layer="below"))

for p, panel in enumerate(PANELS):
    i = p + 1
    r, c = divmod(p, 2)
    x0, x1 = COL_PX[c]
    y0, y1 = ROW_PX[r]
    xa = "x" if i == 1 else f"x{i}"
    ya = "y" if i == 1 else f"y{i}"
    xname = "xaxis" if i == 1 else f"xaxis{i}"
    yname = "yaxis" if i == 1 else f"yaxis{i}"
    is_flux = panel["kind"] == "flux"
    exps = FLUX_TICK_EXP if is_flux else RATE_TICK_EXP
    texts = FLUX_TICK_TEXT if is_flux else RATE_TICK_TEXT

    layout[xname] = dict(domain=[px(x0), px(x1)], anchor=ya, range=[1, 6], tickmode="array",
                         tickvals=X_TICKS, ticktext=X_TICK_TEXT, ticks="inside", ticklen=6, tickwidth=1.3,
                         tickcolor="#333", showline=False, mirror="allticks",
                         showgrid=False, zeroline=False, fixedrange=True,
                         tickfont=dict(family="DejaVu Sans, sans-serif", size=16, color="#111", weight="bold"))
    layout[yname] = dict(domain=[py(y1), py(y0)], anchor=xa, type="log",
                         range=[exps[0], exps[-1]], tickmode="array",
                         tickvals=[10 ** e for e in exps], ticktext=texts, ticks="inside", ticklen=6,
                         tickwidth=1.3, tickcolor="#333", showline=False,
                         mirror="allticks", showgrid=False, zeroline=False, fixedrange=True,
                         tickfont=dict(family=COND, size=14, color="#444"))

    for bx0, bx1 in [(2, 3), (4, 5)]:
        shapes.append(dict(type="rect", xref=xa, yref=f"{ya} domain", x0=bx0, x1=bx1, y0=0, y1=1,
                           fillcolor=BAND_BG, line=dict(width=0), layer="below"))

    # frame: dark left/bottom, lighter right/top
    frame = [((0, 0, 0, 1), "#1e1e1e", 2.0), ((0, 1, 0, 0), "#1e1e1e", 2.0),
             ((1, 1, 0, 1), "#5a5a5a", 1.3), ((0, 1, 1, 1), "#8a8a8a", 1.0)]
    for (fx0, fx1, fy0, fy1), fcol, fw in frame:
        shapes.append(dict(type="line", xref=f"{xa} domain", yref=f"{ya} domain", x0=fx0, x1=fx1, y0=fy0, y1=fy1,
                           line=dict(color=fcol, width=fw), layer="above"))

    if panel["top"]:
        fig.add_trace(go.Scatter(x=TOP_DOTS_X, y=TOP_DOTS_Y, mode="markers", xaxis=xa, yaxis=ya, cliponaxis=False,
                                 marker=dict(size=3, color=panel["top"], line=dict(width=0)),
                                 showlegend=False, hoverinfo="skip"))
    for tx, ty, col in panel["tracks"]:
        assert len(tx) == len(ty), (p, len(tx), len(ty))
        fig.add_trace(go.Scatter(x=tx, y=ty, mode="markers", xaxis=xa, yaxis=ya, cliponaxis=False,
                                 marker=dict(size=5, color=col, line=dict(width=0)),
                                 showlegend=False, hoverinfo="skip"))
    plx, ply = panel["plus"]
    fig.add_trace(go.Scatter(x=plx, y=ply, mode="markers", xaxis=xa, yaxis=ya, cliponaxis=False,
                             marker=dict(symbol="cross-thin", size=14, color=RED, line=dict(color=RED, width=2)),
                             showlegend=False, hoverinfo="skip"))

    # titles inside the plot area
    annotations.append(dict(xref=f"{xa} domain", yref=f"{ya} domain", x=0.004, y=0.902, xanchor="left",
                            yanchor="middle", showarrow=False, text=TITLE_FLUX if is_flux else TITLE_RATE,
                            font=dict(family=COND, size=22, color="#111", weight="bold")))
    annotations.append(dict(xref=f"{xa} domain", yref=f"{ya} domain", x=0.981, y=0.902, xanchor="right",
                            yanchor="middle", showarrow=False, text=DATES[p],
                            font=dict(family=COND, size=20, color="#111")))
    # axis titles
    annotations.append(dict(xref="paper", yref="paper", x=px((x0 + x1) / 2), y=py(y1 + 29),
                            xanchor="center", yanchor="middle", showarrow=False, text=XTITLE,
                            font=dict(family="Liberation Sans, Arial, sans-serif", size=14.5, color="#222")))
    if is_flux:
        annotations.append(dict(xref="paper", yref="paper", x=px(39), y=py((y0 + y1) / 2 + 2),
                                xanchor="center", yanchor="middle", showarrow=False, textangle=-90,
                                text=YTITLE_FLUX, font=dict(family=COND, size=18, color="#111", weight="bold")))
    else:
        annotations.append(dict(xref="paper", yref="paper", x=px(645), y=py((y0 + y1) / 2 - 6),
                                xanchor="center", yanchor="middle", showarrow=False, textangle=-90,
                                text=YTITLE_RATE, font=dict(family="DejaVu Sans, sans-serif", size=23, color="#111")))

for t, nx, ny in zip(D_NOTE_TEXT, D_NOTE_X, D_NOTE_Y):
    annotations.append(dict(xref="x4", yref="y4", x=nx, y=math.log10(ny), showarrow=False, text=t,
                            font=dict(family="DejaVu Sans, sans-serif", size=18, color="#3a5fcd")))

fig.update_layout(width=W, height=H, margin=dict(l=0, r=0, t=0, b=0), paper_bgcolor="white",
                  plot_bgcolor=PLOT_BG, shapes=shapes, annotations=annotations, showlegend=False, **layout)

# place the figure flush with the page corner so it fills the 1204x752 window exactly
PAGE_CSS_JS = ("var s=document.body.style;s.margin='0px';s.padding='0px';s.fontSize='0px';s.lineHeight='0';"
               "s.overflow='hidden';document.documentElement.style.overflow='hidden';")
fig.write_html("out.html", post_script=PAGE_CSS_JS, config={"displayModeBar": False})
